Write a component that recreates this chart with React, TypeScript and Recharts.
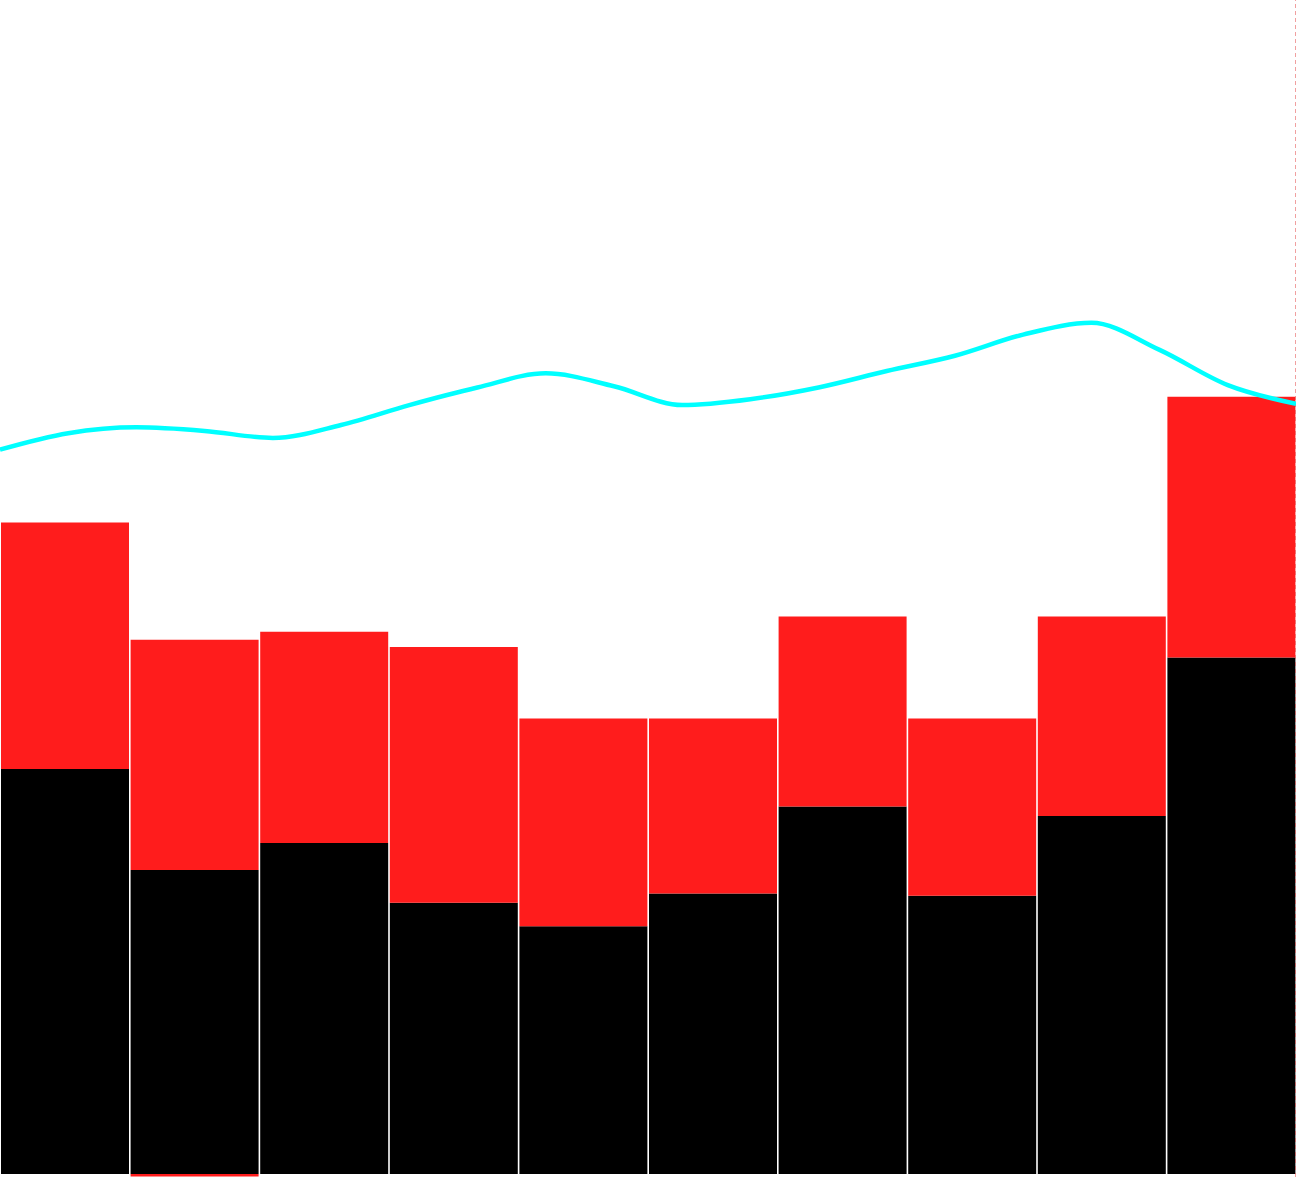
import React from 'react';
import {
  BarChart, Bar, LineChart, Line, XAxis, YAxis, ReferenceLine,
} from 'recharts';

const categories = ['1', '2', '3', '4', '5', '6', '7', '8', '9', '10'];
const baseValues = [34.5, 25.9, 28.2, 23.1, 21.1, 23.9, 31.3, 23.7, 30.5, 44.0];
const topValues = [21.0, 19.6, 18.0, 21.8, 17.7, 14.9, 16.2, 15.1, 17.0, 22.2];
const belowValues = [0, -0.2, 0, 0, 0, 0, 0, 0, 0, 0];

const lineValues = [
  61.7, 63.1, 63.6, 63.3, 62.7, 63.8, 65.5, 67.0, 68.2, 67.1,
  65.5, 66.0, 67.0, 68.4, 69.7, 71.5, 72.5, 70.2, 67.2, 65.6,
];

const W = 1296;
const H = 1177;
const yDomain: [number, number] = [-0.25, 100];

const barData = categories.map((c, i) => ({
  name: c,
  base: baseValues[i],
  top: topValues[i],
  below: belowValues[i],
}));

const lineData = lineValues.map((v, i) => ({ i, v }));

export default function App() {
  return (
    <div style={{ position: 'absolute', left: 0, top: 0, width: W, height: H, background: '#fff' }}>
      <div style={{ position: 'absolute', left: 0, top: 0 }}>
        <BarChart
          width={W}
          height={H}
          data={barData}
          margin={{ top: 0, right: 0, bottom: 0, left: 0 }}
          barCategoryGap={1}
          stackOffset="sign"
        >
          <XAxis dataKey="name" hide />
          <YAxis hide domain={yDomain} allowDataOverflow />
          <Bar dataKey="base" stackId="a" fill="#000000" isAnimationActive={false} />
          <Bar dataKey="top" stackId="a" fill="#ff1c1c" isAnimationActive={false} />
          <Bar dataKey="below" stackId="a" fill="#ff1c1c" isAnimationActive={false} />
        </BarChart>
      </div>
      <div style={{ position: 'absolute', left: 0, top: 0 }}>
        <LineChart
          width={W}
          height={H}
          data={lineData}
          margin={{ top: 0, right: 0, bottom: 0, left: 0 }}
        >
          <XAxis dataKey="i" type="number" domain={[0, lineValues.length - 1]} hide />
          <YAxis hide domain={yDomain} allowDataOverflow />
          <ReferenceLine x={lineValues.length - 1} stroke="#e04040" strokeDasharray="4 3" />
          <Line
            type="monotone"
            dataKey="v"
            stroke="#00ffff"
            strokeWidth={4.5}
            dot={false}
            activeDot={false}
            isAnimationActive={false}
          />
        </LineChart>
      </div>
    </div>
  );
}
